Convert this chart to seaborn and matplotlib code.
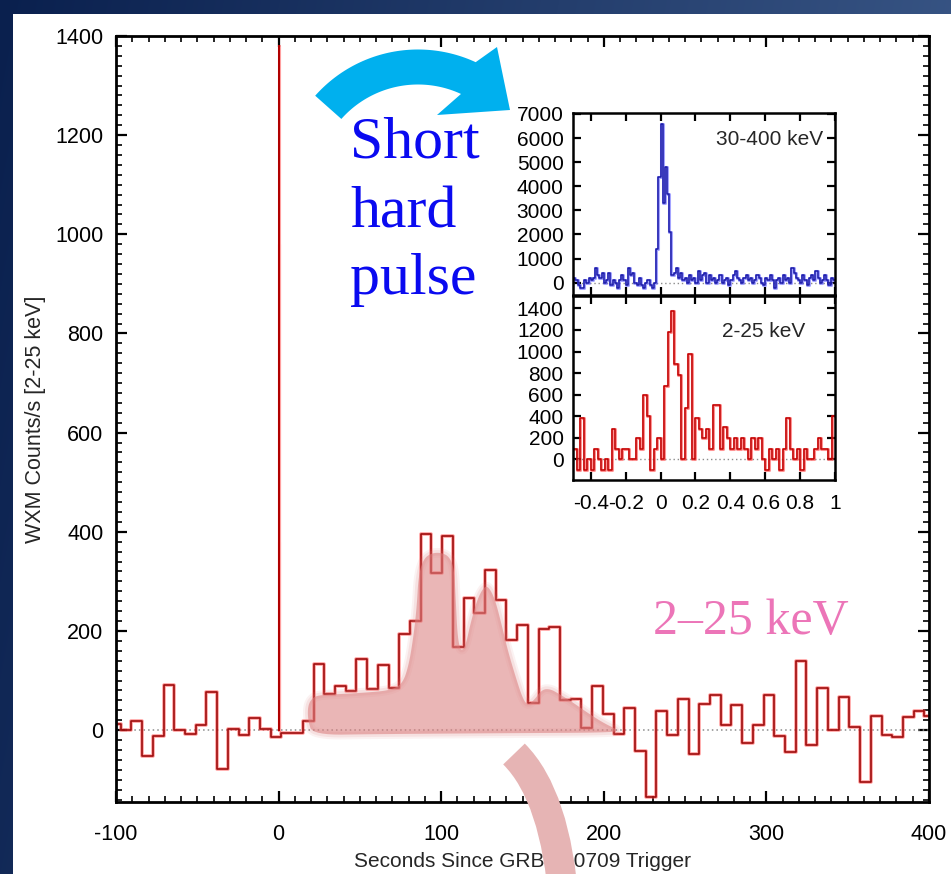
import numpy as np
import pandas as pd
import matplotlib
matplotlib.use("Agg")
import matplotlib.pyplot as plt
from matplotlib.patches import Polygon, PathPatch
from matplotlib.path import Path
from matplotlib.ticker import MultipleLocator, FuncFormatter, FixedLocator
import seaborn as sns

# ---------------- data ----------------
# WXM 2-25 keV light curve, coarse bins (counts/s)
WXM_BIN_START = -103.69
WXM_BIN_WIDTH = 6.59
WXM_COUNTS = [13, 0, 18, -52, -12, 91, 1, -7, 11, 77, -79, 3, -9, 25, 3,
              -14, -5, -5,
              18, 133, 72, 89, 79, 144, 82, 131, 85, 193,
              221, 396, 316, 392, 168, 266, 237, 322, 262, 181,
              212, 55, 203, 208, 60, 63, 5,
              89, 32, -7, 45, -42, -135, 38, -10, 62, -49,
              53, 71, 10, 50, -27, 11, 70, -11, -44, 139,
              -30, 84, 0, 67, 7, -104, 28, -10, -14, 26,
              38, 28]

# fine-binned light curves around the trigger
FINE_START = -0.5
HARD_BIN = 0.0125   # 30-400 keV
HARD_COUNTS = [200, 100, -100, -200, -200, 100, 0, 200, 100, 200,
               600, 300, 200, 400, 0, 100, 400, -100, 100, 0,
               -200, 100, 300, 100, -100, 600, 300, 400, 0, -100,
               200, -100, -200, 0, 100, -100, -200, 0,
               1400, 4400, 6600, 3300, 4800, 3700, 2100, 300,
               400, 600, 200, 400, 100, 200, 0, 300, 100, 200, 0, 500, 100, 300,
               400, 0, 300, 100, 200, 0, 100, 300, 0, 100,
               200, -100, 100, 300, 500, 200, 100, 0, 200, 300,
               100, 200, 0, 100, 300, 200, 0, -100, 200, 100,
               300, 100, -200, 100, 200, 0, 300, 100, 200, 0,
               600, 400, 200, 100, 0, 300, 100, -100, 200, 300,
               100, 500, 200, 0, 100, 300, 100, -100, 200, 100]
SOFT_BIN = 0.02     # 2-25 keV
SOFT_COUNTS = [100, -100, 380, -100, 0, -100, 100, 0, -100, 0,
               -100, 280, 100, 0, 100, 100, 0, 0, 200, 100,
               600, 400, -100, 100, 200, 0, 680, 1180, 1380, 880,
               780, 0, 480, 980, 0, 380, 280, 200, 280, 100,
               500, 500, 100, 300, 200, 100, 200, 100, 200, 100,
               0, 200, 100, 200, 0, -100, 100, 0, 100, -100,
               100, 380, 100, 0, 100, -100, 100, 0, 0, 100,
               200, 100, 100, 0, 400]
# bins of the fine 2-25 keV curve that form the spike on the long time scale
SPIKE_BINS = slice(25, 35)

# tick values
X_TICKS = [-100, 0, 100, 200, 300, 400]
Y_TICKS = [0, 200, 400, 600, 800, 1000, 1200, 1400]
INSET_X_TICKS = [-0.4, -0.2, 0, 0.2, 0.4, 0.6, 0.8, 1]
HARD_Y_TICKS = [0, 1000, 2000, 3000, 4000, 5000, 6000, 7000]
SOFT_Y_TICKS = [0, 200, 400, 600, 800, 1000, 1200, 1400]

# hand-drawn highlight around the extended emission (seconds, counts/s)
GLOW_T = [21, 18, 18, 21, 26, 40, 55, 68, 76, 80, 83, 85, 86, 89, 94, 100,
          105, 108, 109, 110, 112, 115, 118, 122, 126, 129, 133, 137, 141,
          146, 150, 153, 157, 162, 167, 172, 180, 190, 200, 209, 205, 150, 60]
GLOW_C = [-10, 20, 50, 66, 71, 73, 76, 80, 92, 130, 190, 250, 310, 345, 357,
          358, 350, 325, 260, 190, 158, 170, 215, 262, 288, 290, 265, 215,
          160, 105, 65, 50, 60, 82, 83, 74, 58, 35, 14, 0, -5, -6, -8]

# ---------------- style ----------------
sns.set_style("ticks")
NARROW = ["Liberation Sans Narrow", "Liberation Sans", "DejaVu Sans"]
plt.rcParams["font.family"] = NARROW
plt.rcParams["axes.unicode_minus"] = False

W, H = 951, 874
fig = plt.figure(figsize=(W / 100, H / 100), dpi=100)


def fx(px):
    return px / W


def fy(py):
    return 1 - py / H


# dark slide frame with white panel
bg = fig.add_axes([0, 0, 1, 1], zorder=-10)
xx = np.linspace(0, 1, W)[None, :]
yy = np.linspace(0, 1, H)[:, None]
dark = np.array([10, 32, 78]) / 255
light = np.array([62, 92, 140]) / 255
t = np.clip(0.85 * xx + 0.15 * yy, 0, 1)[..., None]
img = dark + (light - dark) * t
img = img * np.ones((H, W, 1))
img[14:, 13:, :] = 1.0
bg.imshow(img, aspect="auto", extent=(0, 1, 0, 1), interpolation="bilinear")
bg.set_axis_off()


def steps(start, width, counts):
    edges = start + width * np.arange(len(counts) + 1)
    return pd.DataFrame({"t": edges, "c": list(counts) + [counts[-1]]})


def draw_trace(ax, df, glow, core, lw_glow=2.6, lw_core=1.2):
    sns.lineplot(data=df, x="t", y="c", ax=ax, drawstyle="steps-post",
                 estimator=None, sort=False, color=glow, lw=lw_glow, alpha=0.55)
    sns.lineplot(data=df, x="t", y="c", ax=ax, drawstyle="steps-post",
                 estimator=None, sort=False, color=core, lw=lw_core)


def style_frame(ax, lw, major_len, minor_len, size, pad):
    for s in ax.spines.values():
        s.set_visible(True)
        s.set_linewidth(lw)
        s.set_color("black")
    ax.tick_params(which="both", direction="in", top=True, right=True,
                   colors="black")
    ax.tick_params(which="major", length=major_len, width=1.6,
                   labelsize=size, pad=pad)
    ax.tick_params(which="minor", length=minor_len, width=1.2)


# ---------------- main light curve ----------------
ax = fig.add_axes([fx(116), fy(802), fx(929) - fx(116), fy(36) - fy(802)])
ax.set_facecolor("white")
wxm = steps(WXM_BIN_START, WXM_BIN_WIDTH, WXM_COUNTS)
soft = steps(FINE_START, SOFT_BIN, SOFT_COUNTS)
spike = soft.iloc[SPIKE_BINS.start:SPIKE_BINS.stop + 1]
ax.axhline(0, color="#8c8c8c", lw=1.1, ls=(0, (1, 2)), zorder=1)
draw_trace(ax, wxm, "#ff5050", "#9e0c0c")
draw_trace(ax, spike, "#ff5050", "#b00000", lw_glow=2.2, lw_core=1.4)

ax.set_xlim(-100, 400)
ax.set_ylim(-145, 1400)
ax.xaxis.set_major_locator(FixedLocator(X_TICKS))
ax.yaxis.set_major_locator(FixedLocator(Y_TICKS))
ax.xaxis.set_minor_locator(MultipleLocator(10))
ax.yaxis.set_minor_locator(MultipleLocator(20))
ax.xaxis.set_major_formatter(FuncFormatter(lambda v, p: f"{v:g}"))
ax.yaxis.set_major_formatter(FuncFormatter(lambda v, p: f"{v:g}"))
style_frame(ax, 2.0, 8, 4, 15.5, 9)
ax.tick_params(axis="x", which="major", pad=16)
ax.set_xlabel("Seconds Since GRB 050709 Trigger", fontsize=15, labelpad=5)
ax.set_ylabel("WXM Counts/s [2-25 keV]", fontsize=15.5, labelpad=7,
              family=["Liberation Sans", "DejaVu Sans"])


def chaikin(xs, ys, n=3):
    pts = np.column_stack([xs, ys]).astype(float)
    for _ in range(n):
        nxt = np.roll(pts, -1, axis=0)
        q = 0.75 * pts + 0.25 * nxt
        r = 0.25 * pts + 0.75 * nxt
        pts = np.empty((2 * len(pts), 2))
        pts[0::2], pts[1::2] = q, r
    return pts


blob = chaikin(GLOW_T, GLOW_C)
for lw, a in [(7, 0.10), (4, 0.15)]:
    ax.add_patch(Polygon(blob, closed=True, facecolor="none",
                         edgecolor="#dc8282", lw=lw, alpha=a, zorder=4,
                         joinstyle="round"))
ax.add_patch(Polygon(blob, closed=True, facecolor="#dc8282", edgecolor="none",
                     alpha=0.58, zorder=4))

# ---------------- inset: fine time resolution ----------------
ix0, ix1 = 573.3, 835
ax_hard = fig.add_axes([fx(ix0), fy(295), fx(ix1) - fx(ix0), fy(113) - fy(295)])
ax_soft = fig.add_axes([fx(ix0), fy(480), fx(ix1) - fx(ix0), fy(296) - fy(480)],
                       sharex=ax_hard)
for a in (ax_hard, ax_soft):
    a.set_facecolor("white")
    a.axhline(0, color="#8c8c8c", lw=1.0, ls=(0, (1, 2)), zorder=1)

draw_trace(ax_hard, steps(FINE_START, HARD_BIN, HARD_COUNTS),
           "#5a5aff", "#1a1aa8", lw_glow=2.2, lw_core=1.1)
draw_trace(ax_soft, soft, "#ff3a3a", "#c00000", lw_glow=2.2, lw_core=1.1)

ax_hard.set_xlim(-0.5, 1.0)
ax_hard.set_ylim(-510, 7040)
ax_soft.set_ylim(-192, 1515)
ax_hard.xaxis.set_major_locator(FixedLocator(INSET_X_TICKS))
ax_hard.yaxis.set_major_locator(FixedLocator(HARD_Y_TICKS))
ax_soft.yaxis.set_major_locator(FixedLocator(SOFT_Y_TICKS))
ax_soft.xaxis.set_major_formatter(FuncFormatter(lambda v, p: f"{v:g}"))
for a in (ax_hard, ax_soft):
    style_frame(a, 1.8, 6, 3, 15, 7)
    a.set_xlabel("")
    a.set_ylabel("")
ax_hard.tick_params(axis="x", labelbottom=False)
ax_soft.tick_params(axis="x", pad=10)
ax_hard.text(0.954, 0.824, "30-400 keV", transform=ax_hard.transAxes,
             ha="right", va="baseline", fontsize=15)
ax_soft.text(0.886, 0.779, "2-25 keV", transform=ax_soft.transAxes,
             ha="right", va="baseline", fontsize=15)

# ---------------- annotations ----------------
SERIF = ["Liberation Serif", "DejaVu Serif"]
for word, base in [("Short", 158), ("hard", 227), ("pulse", 294)]:
    fig.text(fx(350), fy(base), word, color="#0a0af0", fontsize=43,
             family=SERIF, va="baseline", ha="left")
fig.text(fx(653), fy(634), "2\u201325 keV", color="#ec75b8", fontsize=36,
         family=SERIF, va="baseline", ha="left")

# cyan curved arrow pointing to the inset
cx, cy, r_in, r_out = 418.0, 187.0, 102.5, 137.5
ang = np.radians(np.linspace(-138.4, -65.2, 60))
outer = np.column_stack([cx + r_out * np.cos(ang), cy + r_out * np.sin(ang)])
inner = np.column_stack([cx + r_in * np.cos(ang), cy + r_in * np.sin(ang)])[::-1]
head_base_top, head_base_bot, head_tip = (497, 47), (437, 115), (510, 110)
arrow_px = np.vstack([outer, [head_base_top], [head_tip], [head_base_bot], inner])
arrow_fig = np.column_stack([fx(arrow_px[:, 0]), fy(arrow_px[:, 1])])
fig.add_artist(Polygon(arrow_fig, closed=True, facecolor="#00b0ee",
                       edgecolor="none", transform=fig.transFigure, zorder=20))

# pink curved arrow body pointing down out of the panel
p0, p1, p2 = (514, 754), (556, 796), (564, 905)
bez = Path([(fx(p0[0]), fy(p0[1])), (fx(p1[0]), fy(p1[1])), (fx(p2[0]), fy(p2[1]))],
           [Path.MOVETO, Path.CURVE3, Path.CURVE3])
fig.add_artist(PathPatch(bez, facecolor="none", edgecolor="#e6b4b4", lw=21.6,
                         capstyle="butt", transform=fig.transFigure, zorder=20))

fig.savefig("out.png", dpi=100)
